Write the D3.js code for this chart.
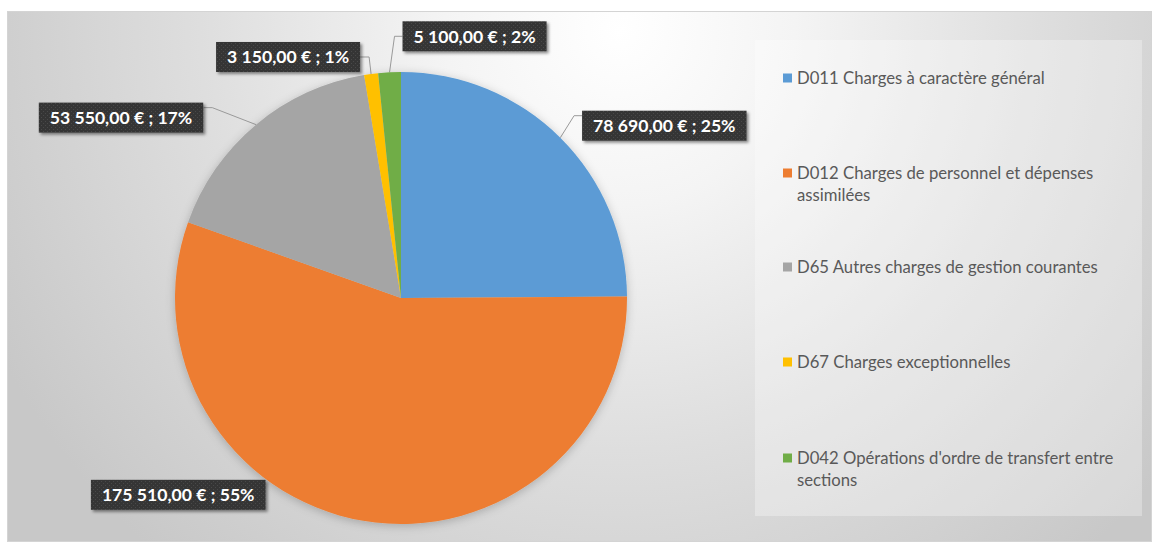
<!DOCTYPE html>
<html><head><meta charset="utf-8">
<script src="https://cdn.jsdelivr.net/npm/d3@7"></script>
<style>html,body{margin:0;padding:0;background:#fff;}svg{display:block;}</style>
</head><body>
<svg id="chart" width="1152" height="543"></svg>
<script>
// ---- data ----
const categories = [
  "D011 Charges à caractère général",
  "D012 Charges de personnel et dépenses assimilées",
  "D65 Autres charges de gestion courantes",
  "D67 Charges exceptionnelles",
  "D042 Opérations d'ordre de transfert entre sections"
];
const values = [78690, 175510, 53550, 3150, 5100];
const percentLabels = ["25%", "55%", "17%", "1%", "2%"];
const valueLabels = ["78 690,00 €", "175 510,00 €", "53 550,00 €", "3 150,00 €", "5 100,00 €"];
const legendLines = [
  ["D011 Charges à caractère général"],
  ["D012 Charges de personnel et dépenses", "assimilées"],
  ["D65 Autres charges de gestion courantes"],
  ["D67 Charges exceptionnelles"],
  ["D042 Opérations d'ordre de transfert entre", "sections"]
];
const colors = ["#5B9BD5", "#ED7D31", "#A5A5A5", "#FFC000", "#70AD47"];

// ---- layout (label box centre offsets from slice outer mid point) ----
const labelLayout = [
  {dx: 104, dy: -12, side: "left", ay: "top", leader: true},
  {dx: -185, dy: -26, side: "none", ay: "mid", leader: false},
  {dx: -135, dy: -7, side: "right", ay: "top", leader: true},
  {dx: -83, dy: -17, side: "right", ay: "mid", leader: true},
  {dx: 85, dy: -36, side: "left", ay: "mid", leader: true}
];

const svg = d3.select("#chart");
const defs = svg.append("defs");

const bg = defs.append("radialGradient").attr("id", "bgGrad")
  .attr("gradientUnits", "userSpaceOnUse")
  .attr("cx", 620).attr("cy", 30).attr("r", 700);
bg.append("stop").attr("offset", 0).attr("stop-color", "#ffffff");
bg.append("stop").attr("offset", 0.25).attr("stop-color", "#f4f4f4");
bg.append("stop").attr("offset", 0.6).attr("stop-color", "#dedede");
bg.append("stop").attr("offset", 1).attr("stop-color", "#c8c8c8");

const sh = defs.append("filter").attr("id", "boxShadow")
  .attr("x", "-20%").attr("y", "-40%").attr("width", "140%").attr("height", "180%");
sh.append("feDropShadow").attr("dx", 2).attr("dy", 2).attr("stdDeviation", 1.5)
  .attr("flood-color", "#000").attr("flood-opacity", 0.45);

const psh = defs.append("filter").attr("id", "pieShadow")
  .attr("x", "-20%").attr("y", "-20%").attr("width", "140%").attr("height", "140%");
psh.append("feDropShadow").attr("dx", 0).attr("dy", 2).attr("stdDeviation", 5)
  .attr("flood-color", "#000").attr("flood-opacity", 0.22);

const pat = defs.append("pattern").attr("id", "dots")
  .attr("patternUnits", "userSpaceOnUse").attr("width", 4).attr("height", 4);
pat.append("rect").attr("width", 4).attr("height", 4).attr("fill", "#353535");
pat.append("rect").attr("x", 1).attr("y", 1).attr("width", 1).attr("height", 1).attr("fill", "#4a4a4a");
pat.append("rect").attr("x", 3).attr("y", 3).attr("width", 1).attr("height", 1).attr("fill", "#4a4a4a");

// chart frame
svg.append("rect").attr("x", 7.5).attr("y", 11.5).attr("width", 1144).attr("height", 530)
  .attr("fill", "url(#bgGrad)").attr("stroke", "#d4d4d4").attr("stroke-width", 1);

// legend box
svg.append("rect").attr("x", 755).attr("y", 40).attr("width", 387).attr("height", 476)
  .attr("fill", "#ffffff").attr("fill-opacity", 0.3);

// pie
const cx = 401, cy = 298, R = 226;
const pie = d3.pie().sort(null).value(d => d);
const arcs = pie(values);
const arc = d3.arc().innerRadius(0).outerRadius(R);

const g = svg.append("g").attr("transform", `translate(${cx},${cy})`);
g.append("g").attr("filter", "url(#pieShadow)")
  .selectAll("path").data(arcs).join("path")
  .attr("d", arc).attr("fill", (d, i) => colors[i]);

// labels
const font = "Lato, 'Open Sans', sans-serif";
arcs.forEach((d, i) => {
  const mid = (d.startAngle + d.endAngle) / 2;
  const ex = cx + R * Math.sin(mid), ey = cy - R * Math.cos(mid);
  const L = labelLayout[i];
  const bx = ex + L.dx, by = ey + L.dy;
  const lg = svg.append("g");
  const t = lg.append("text")
    .attr("x", bx).attr("y", by).attr("dy", "0.36em")
    .attr("text-anchor", "middle")
    .style("font-family", font).style("font-weight", "700").style("font-size", "17.6px")
    .attr("fill", "#ffffff")
    .text(`${valueLabels[i]} ; ${percentLabels[i]}`);
  const bb = t.node().getBBox();
  const w = bb.width + 22, h = 30;
  const left = bx - w / 2, top = by - h / 2;
  lg.insert("rect", "text").attr("x", left).attr("y", top).attr("width", w).attr("height", h)
    .attr("fill", "url(#dots)").attr("filter", "url(#boxShadow)");
  if (L.leader) {
    const ay = L.ay === "top" ? top + 5 : by;
    const sx = L.side === "left" ? left : left + w;
    const kx = L.side === "left" ? sx - 8 : sx + 9;
    svg.insert("path", "g").attr("d", `M${sx},${ay}H${kx}L${ex},${ey}`)
      .attr("fill", "none").attr("stroke", "#9a9a9a").attr("stroke-width", 1);
  }
});

// legend
const legendY = [78, 173, 267, 362, 458];
const lgd = svg.append("g");
legendLines.forEach((lines, i) => {
  lgd.append("rect").attr("x", 783).attr("y", legendY[i] - 4.5).attr("width", 9).attr("height", 9)
    .attr("fill", colors[i]);
  const tx = lgd.append("text").attr("x", 797).attr("y", legendY[i])
    .style("font-family", font).style("font-size", "16.7px").attr("fill", "#595959");
  lines.forEach((ln, j) => {
    tx.append("tspan").attr("x", 797).attr("dy", j === 0 ? "0.36em" : "22px").text(ln);
  });
});
</script>
</body></html>
